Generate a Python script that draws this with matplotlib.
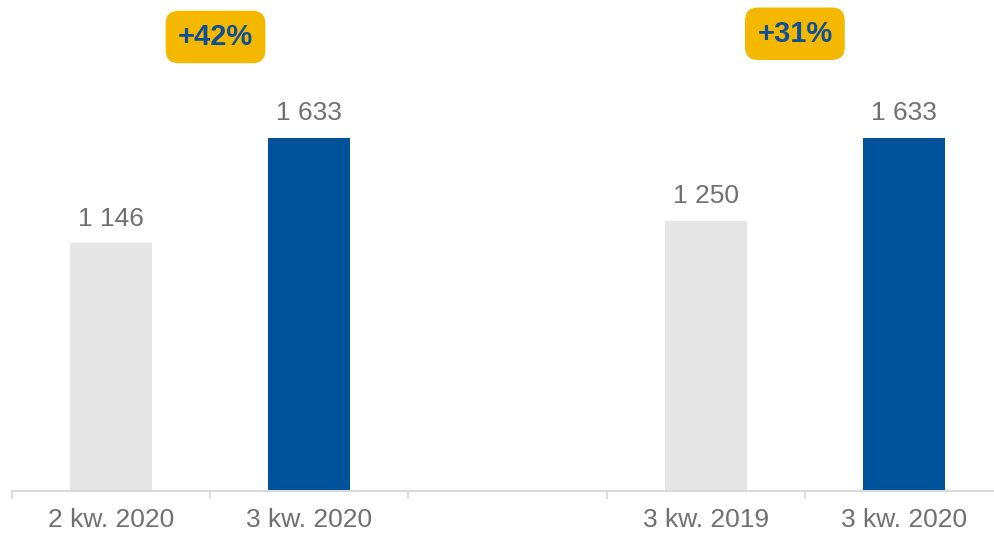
import numpy as np
import matplotlib.pyplot as plt

# dane
labels = ["2 kw. 2020", "3 kw. 2020", "", "3 kw. 2019", "3 kw. 2020"]
values = [1146, 1633, None, 1250, 1633]
colors = ["#E6E6E6", "#00529B", None, "#E6E6E6", "#00529B"]
changes = ["+42%", "+31%"]
change_pos = [0.527, 3.45]
change_y = [2100, 2115]

plt.rcParams['font.family'] = ['Liberation Sans', 'DejaVu Sans']

fig = plt.figure(figsize=(9.94, 5.34), dpi=100)
ax = fig.add_axes([12/994, 1 - 491/534, 991/994, 491/534])

for i, v in enumerate(values):
    if v is None:
        continue
    ax.bar(i, v, width=0.415, color=colors[i], zorder=2)
    ax.annotate(f"{v // 1000} {v % 1000:03d}", (i, v), xytext=(0, 9),
                textcoords="offset points", ha="center", va="bottom",
                fontsize=19, color="#707070")

for txt, x, y in zip(changes, change_pos, change_y):
    ax.text(x, y, txt, ha="center", va="center", fontsize=21,
            fontweight="bold", color="#0F4F98",
            bbox=dict(boxstyle="round,pad=0.42,rounding_size=0.45",
                      fc="#F5B800", ec="none"))

ax.set_xlim(-0.5, 4.5)
ax.set_ylim(0, 2271)

ax.set_xticks([0, 1, 3, 4])
ax.set_xticklabels([labels[i] for i in [0, 1, 3, 4]], fontsize=19, color="#707070")
ax.set_xticks(np.arange(-0.5, 5, 1), minor=True)
ax.tick_params(axis="x", which="major", length=0, pad=12)
ax.tick_params(axis="x", which="minor", length=6, width=1.2, color="#D9D9D9")
ax.set_yticks([])

for s in ["top", "right", "left"]:
    ax.spines[s].set_visible(False)
ax.spines["bottom"].set_color("#D9D9D9")
ax.spines["bottom"].set_linewidth(1.5)

fig.savefig("out.png", dpi=100)
